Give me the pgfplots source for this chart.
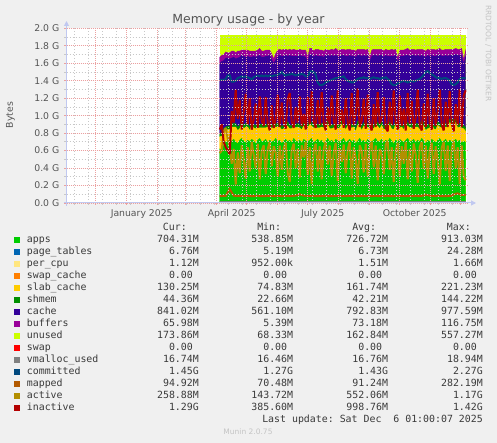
\documentclass[border=0pt]{standalone}
\usepackage{fontspec}
\setmainfont{DejaVu Sans}
\newfontfamily\monofam{DejaVu Sans Mono}
\usepackage{pgfplots}
\pgfplotsset{compat=1.18}
\usepackage{pgfplotstable}
\usetikzlibrary{arrows.meta}

\definecolor{bgcol}{HTML}{F0F0F0}
\definecolor{cApps}{HTML}{00CC00}
\definecolor{cPT}{HTML}{0066B3}
\definecolor{cPC}{HTML}{FFE680}
\definecolor{cSC}{HTML}{FF8000}
\definecolor{cSlab}{HTML}{FFCC00}
\definecolor{cShm}{HTML}{008F00}
\definecolor{cCache}{HTML}{330099}
\definecolor{cBuf}{HTML}{990099}
\definecolor{cUnused}{HTML}{CCFF00}
\definecolor{cSwap}{HTML}{FF0000}
\definecolor{cVm}{HTML}{808080}
\definecolor{cCom}{HTML}{00487D}
\definecolor{cMap}{HTML}{B35A00}
\definecolor{cAct}{HTML}{B38F00}
\definecolor{cInact}{HTML}{B30000}
\definecolor{gridred}{HTML}{EBA0A0}
\definecolor{gridgray}{HTML}{C8C8C8}
\definecolor{axblue}{HTML}{C0C8F0}
\definecolor{labcol}{HTML}{555555}
\definecolor{txtcol}{HTML}{3A3A3A}
\definecolor{faint}{HTML}{C4C4C4}

% d = days since 1 Jan 2025; values in GiB
\pgfplotstableread{
d apps slab shm cache buf com act inact map
93 0.62 0.14 0.04 0.80 0.07 1.41 0.57 0.84 0.080
95 0.60 0.16 0.04 0.82 0.07 1.41 0.60 0.90 0.080
97 0.66 0.15 0.04 0.78 0.07 1.41 0.82 0.70 0.081
99 0.70 0.13 0.04 0.79 0.07 1.42 0.86 0.64 0.082
101 0.72 0.12 0.04 0.78 0.06 1.46 0.74 0.60 0.120
103 0.69 0.15 0.04 0.77 0.07 1.46 0.64 0.56 0.160
105 0.71 0.16 0.04 0.75 0.08 1.39 0.45 1.05 0.120
107 0.73 0.14 0.04 0.76 0.07 1.39 0.62 0.92 0.085
109 0.70 0.17 0.04 0.74 0.07 1.40 0.21 1.30 0.082
111 0.68 0.15 0.04 0.79 0.08 1.43 0.58 0.96 0.080
113 0.72 0.13 0.04 0.78 0.07 1.44 0.34 1.18 0.081
115 0.74 0.16 0.05 0.74 0.06 1.45 0.66 0.84 0.080
117 0.71 0.14 0.04 0.79 0.07 1.44 0.50 1.04 0.079
119 0.69 0.18 0.04 0.76 0.08 1.45 0.28 1.25 0.080
121 0.72 0.15 0.04 0.77 0.07 1.44 0.64 0.90 0.081
123 0.70 0.13 0.04 0.80 0.07 1.43 0.36 1.20 0.080
125 0.73 0.16 0.04 0.74 0.07 1.41 0.70 0.84 0.079
127 0.71 0.15 0.04 0.78 0.06 1.44 0.55 0.95 0.080
129 0.68 0.17 0.04 0.78 0.07 1.45 0.40 1.14 0.080
131 0.72 0.14 0.04 0.78 0.07 1.46 0.68 0.86 0.081
133 0.74 0.12 0.04 0.79 0.08 1.45 0.27 1.22 0.080
135 0.70 0.16 0.04 0.77 0.07 1.46 0.60 0.94 0.079
137 0.71 0.15 0.05 0.76 0.07 1.45 0.66 0.88 0.080
139 0.73 0.13 0.04 0.78 0.07 1.46 0.33 1.21 0.080
141 0.69 0.18 0.04 0.77 0.07 1.45 0.62 0.92 0.081
143 0.72 0.14 0.04 0.79 0.06 1.46 0.70 0.83 0.080
145 0.70 0.16 0.04 0.74 0.07 1.45 0.42 1.12 0.080
147 0.71 0.15 0.04 0.70 0.05 1.46 0.65 0.86 0.079
149 0.74 0.13 0.04 0.73 0.07 1.46 0.58 0.96 0.080
151 0.70 0.17 0.04 0.77 0.07 1.47 0.30 1.24 0.081
153 0.72 0.15 0.04 0.78 0.07 1.48 0.66 0.87 0.080
155 0.68 0.16 0.04 0.80 0.07 1.50 0.38 1.15 0.080
157 0.71 0.14 0.04 0.79 0.08 1.47 0.63 0.91 0.079
159 0.73 0.15 0.04 0.77 0.07 1.46 0.69 0.85 0.080
161 0.70 0.18 0.05 0.75 0.07 1.47 0.35 1.19 0.081
163 0.72 0.13 0.04 0.80 0.07 1.47 0.24 1.26 0.080
165 0.69 0.16 0.04 0.79 0.07 1.48 0.61 0.93 0.080
167 0.74 0.14 0.04 0.76 0.08 1.47 0.68 0.86 0.082
169 0.71 0.15 0.04 0.78 0.07 1.46 0.40 1.10 0.085
171 0.70 0.17 0.04 0.77 0.07 1.47 0.62 0.92 0.090
173 0.72 0.14 0.04 0.79 0.07 1.47 0.29 1.22 0.100
175 0.68 0.16 0.04 0.80 0.07 1.48 0.66 0.88 0.090
177 0.73 0.15 0.04 0.76 0.07 1.47 0.52 1.02 0.084
179 0.71 0.13 0.04 0.79 0.08 1.45 0.70 0.84 0.082
181 0.70 0.16 0.04 0.72 0.05 1.45 0.32 1.21 0.080
183 0.72 0.18 0.05 0.75 0.07 1.50 0.64 0.90 0.080
185 0.74 0.14 0.04 0.78 0.07 1.51 0.22 1.28 0.081
187 0.69 0.17 0.04 0.77 0.07 1.50 0.60 0.94 0.080
189 0.71 0.15 0.04 0.79 0.07 1.47 0.68 0.86 0.080
191 0.73 0.13 0.04 0.78 0.08 1.38 0.36 1.18 0.079
193 0.70 0.16 0.04 0.78 0.07 1.35 0.65 0.89 0.080
195 0.72 0.15 0.04 0.77 0.07 1.35 0.27 1.27 0.080
197 0.68 0.18 0.05 0.76 0.07 1.36 0.62 0.92 0.081
199 0.71 0.14 0.04 0.80 0.07 1.38 0.70 0.83 0.080
201 0.74 0.16 0.04 0.75 0.06 1.39 0.44 1.10 0.080
203 0.70 0.15 0.04 0.79 0.07 1.40 0.66 0.88 0.079
205 0.72 0.13 0.04 0.80 0.07 1.41 0.31 1.23 0.080
207 0.69 0.17 0.04 0.78 0.07 1.42 0.58 0.95 0.080
209 0.73 0.15 0.04 0.77 0.08 1.43 0.69 0.84 0.081
211 0.71 0.14 0.04 0.79 0.07 1.43 0.25 1.29 0.080
213 0.70 0.16 0.05 0.77 0.07 1.44 0.63 0.90 0.080
215 0.72 0.18 0.04 0.75 0.07 1.44 0.47 1.07 0.080
217 0.74 0.14 0.04 0.77 0.07 1.45 0.67 0.86 0.079
219 0.69 0.15 0.04 0.80 0.07 1.42 0.34 1.20 0.080
221 0.71 0.17 0.04 0.76 0.08 1.40 0.61 0.93 0.080
223 0.73 0.13 0.04 0.79 0.07 1.39 0.70 0.83 0.081
225 0.70 0.16 0.04 0.78 0.07 1.38 0.28 1.26 0.080
227 0.72 0.15 0.04 0.77 0.07 1.38 0.64 0.89 0.080
229 0.68 0.14 0.04 0.81 0.07 1.40 0.52 1.02 0.079
231 0.71 0.18 0.05 0.75 0.07 1.42 0.22 1.31 0.080
233 0.74 0.15 0.04 0.76 0.07 1.43 0.66 0.87 0.080
235 0.70 0.13 0.04 0.81 0.08 1.43 0.60 0.94 0.081
237 0.72 0.16 0.04 0.77 0.07 1.44 0.35 1.19 0.080
239 0.69 0.17 0.04 0.78 0.07 1.43 0.68 0.85 0.080
241 0.73 0.14 0.04 0.78 0.07 1.43 0.30 1.24 0.080
243 0.71 0.15 0.04 0.72 0.05 1.42 0.63 0.90 0.079
245 0.70 0.16 0.04 0.78 0.07 1.43 0.70 0.83 0.080
247 0.72 0.13 0.04 0.80 0.07 1.44 0.41 1.13 0.080
249 0.74 0.15 0.05 0.75 0.07 1.43 0.66 0.87 0.081
251 0.70 0.18 0.04 0.76 0.08 1.43 0.26 1.27 0.080
253 0.71 0.14 0.04 0.80 0.07 1.42 0.62 0.91 0.080
255 0.73 0.16 0.04 0.76 0.07 1.43 0.56 0.97 0.079
257 0.69 0.15 0.04 0.79 0.07 1.43 0.33 1.21 0.080
259 0.72 0.13 0.04 0.80 0.07 1.44 0.67 0.86 0.080
261 0.70 0.17 0.04 0.77 0.07 1.42 0.71 0.82 0.081
263 0.74 0.15 0.04 0.75 0.07 1.40 0.38 1.16 0.080
265 0.71 0.14 0.04 0.79 0.08 1.36 0.64 0.89 0.080
267 0.68 0.16 0.05 0.79 0.07 1.35 0.24 1.29 0.080
269 0.72 0.18 0.04 0.75 0.07 1.35 0.60 0.93 0.079
271 0.70 0.15 0.04 0.72 0.05 1.37 0.69 0.84 0.080
273 0.73 0.13 0.04 0.78 0.07 1.38 0.30 1.23 0.080
275 0.71 0.16 0.04 0.77 0.07 1.39 0.65 0.88 0.081
277 0.69 0.15 0.04 0.80 0.07 1.40 0.45 1.08 0.080
279 0.72 0.17 0.04 0.76 0.07 1.39 0.70 0.83 0.080
281 0.74 0.14 0.04 0.77 0.08 1.38 0.27 1.26 0.080
283 0.70 0.16 0.04 0.78 0.07 1.39 0.62 0.91 0.079
285 0.71 0.15 0.05 0.78 0.07 1.40 0.36 1.17 0.080
287 0.73 0.13 0.04 0.79 0.07 1.39 0.68 0.85 0.080
289 0.69 0.18 0.04 0.77 0.07 1.40 0.56 0.97 0.081
291 0.72 0.15 0.04 0.78 0.07 1.41 0.23 1.30 0.080
293 0.70 0.14 0.04 0.80 0.08 1.42 0.64 0.89 0.080
295 0.74 0.16 0.04 0.75 0.07 1.44 0.70 0.83 0.082
297 0.71 0.17 0.04 0.76 0.07 1.47 0.39 1.14 0.088
299 0.68 0.15 0.04 0.80 0.07 1.50 0.66 0.87 0.095
301 0.72 0.13 0.05 0.79 0.07 1.51 0.28 1.25 0.090
303 0.70 0.16 0.04 0.78 0.07 1.49 0.61 0.92 0.085
305 0.73 0.18 0.04 0.74 0.07 1.47 0.69 0.84 0.082
307 0.71 0.14 0.04 0.79 0.08 1.46 0.33 1.20 0.080
309 0.69 0.15 0.04 0.80 0.07 1.44 0.65 0.88 0.080
311 0.72 0.17 0.04 0.76 0.07 1.43 0.48 1.05 0.081
313 0.74 0.13 0.04 0.79 0.07 1.43 0.21 1.30 0.080
315 0.70 0.16 0.04 0.78 0.07 1.42 0.63 0.90 0.080
317 0.71 0.15 0.05 0.77 0.07 1.43 0.70 0.83 0.079
319 0.73 0.14 0.04 0.78 0.07 1.43 0.37 1.16 0.080
321 0.69 0.18 0.04 0.77 0.08 1.42 0.66 0.87 0.080
323 0.72 0.20 0.04 0.73 0.07 1.40 0.25 1.28 0.081
325 0.70 0.21 0.04 0.74 0.07 1.36 0.62 0.91 0.085
327 0.71 0.20 0.05 0.73 0.07 1.35 0.71 0.82 0.095
329 0.73 0.19 0.04 0.74 0.07 1.36 0.40 1.13 0.105
331 0.70 0.16 0.04 0.79 0.07 1.38 0.64 0.89 0.110
333 0.72 0.15 0.04 0.78 0.07 1.42 0.22 1.30 0.100
335 0.69 0.17 0.04 0.79 0.08 1.43 0.66 0.87 0.090
337 0.71 0.14 0.04 0.70 0.05 1.43 0.30 1.23 0.092
339 0.69 0.13 0.04 0.82 0.07 1.43 0.26 1.29 0.093
}\memdata

\pgfplotsset{memgeom/.style={
  scale only axis, width=400.5bp, height=174.7bp,
  at={(66.5bp,240bp)}, anchor=south west,
  xmin=-60.2, xmax=340.3, ymin=0, ymax=2,
}}

\newcommand\legfont{\fontsize{9.9bp}{12bp}\monofam}
\newcommand\tickfont{\fontsize{9.3bp}{11bp}\selectfont}

\begin{document}
\begin{tikzpicture}
\fill[bgcol] (0,0) rectangle (497bp,443bp);
\path[use as bounding box] (0,0) rectangle (497bp,443bp);

% background + unused (total memory)
\begin{axis}[memgeom, axis line style={draw=none}, ticks=none,
  axis background/.style={fill=white}]
\addplot[fill=cUnused, draw=none] coordinates {(93,1.925) (339,1.925)} \closedcycle;
\end{axis}

% stacked areas
\begin{axis}[memgeom, axis line style={draw=none}, ticks=none, stack plots=y]
\addplot[fill=cApps, draw=cApps, line width=0.3bp] table[x=d,y=apps]{\memdata} \closedcycle;
\addplot[fill=cSlab, draw=cSlab, line width=0.3bp] table[x=d,y=slab]{\memdata} \closedcycle;
\addplot[fill=cShm, draw=cShm, line width=0.3bp] table[x=d,y=shm]{\memdata} \closedcycle;
\addplot[fill=cCache, draw=cCache, line width=0.3bp] table[x=d,y=cache]{\memdata} \closedcycle;
\addplot[fill=cBuf, draw=cBuf, line width=0.3bp] table[x=d,y=buf]{\memdata} \closedcycle;
\end{axis}

% lines, grid, ticks
\begin{axis}[memgeom, axis on top, axis line style={draw=none},
  xtick pos=bottom, ytick pos=left, tick align=outside,
  major tick length=2bp, minor tick length=2bp,
  major tick style={draw=gridred, line width=0.8bp},
  minor tick style={draw=gridgray, line width=0.8bp},
  grid=both,
  major grid style={draw=gridred, line width=0.8bp, dash pattern=on 1bp off 1bp},
  minor grid style={draw=gridgray, line width=0.8bp, dash pattern=on 1bp off 2bp},
  xtick={-31,0,31,59,90,120,151,181,212,243,273,304,334},
  xticklabel={\relax},
  minor xtick={-52,-38,-24,-10,4,18,32,46,60,74,88,102,116,130,144,158,172,186,200,214,228,242,256,270,284,298,312,326},
  extra x ticks={15,105,196,288},
  extra x tick labels={January 2025,April 2025,July 2025,October 2025},
  extra x tick style={grid=none, major tick length=0pt},
  xticklabel style={font=\tickfont, text=labcol, inner sep=0pt, yshift=-6.2bp},
  ytick={0,0.2,0.4,0.6,0.8,1.0,1.2,1.4,1.6,1.8,2.0},
  yticklabels={0.0 G,0.2 G,0.4 G,0.6 G,0.8 G,1.0 G,1.2 G,1.4 G,1.6 G,1.8 G,2.0 G},
  minor ytick={0.1,0.3,0.5,0.7,0.9,1.1,1.3,1.5,1.7,1.9},
  yticklabel style={font=\tickfont, text=labcol, inner sep=0pt, xshift=-5bp},
]
\addplot[cVm, line width=2bp] coordinates {(93,0.016) (339,0.016)};
\addplot[cCom, line width=2bp] table[x=d,y=com]{\memdata};
\addplot[cMap, line width=2bp] table[x=d,y=map]{\memdata};
\addplot[cAct, line width=2bp, line join=bevel] table[x=d,y=act]{\memdata};
\addplot[cInact, line width=2bp, line join=bevel] table[x=d,y=inact]{\memdata};
\end{axis}

% axis lines with arrows
\draw[axblue, line width=1bp, -{Triangle[length=5bp,width=5bp]}] (66.5bp,237bp) -- (66.5bp,422bp);
\draw[axblue, line width=1bp, -{Triangle[length=5bp,width=5bp]}] (63.5bp,240bp) -- (476bp,240bp);

% title and labels
\node[anchor=base, inner sep=0, font=\fontsize{12.5bp}{14bp}\selectfont, text=labcol] at (248.5bp,419bp) {Memory usage - by year};
\node[rotate=90, inner sep=0, font=\tickfont, text=labcol] at (10.5bp,328bp) {Bytes};
\node[rotate=-90, inner sep=0, font=\fontsize{7.5bp}{9bp}\selectfont, text=faint] at (488.3bp,389.7bp) {RRDTOOL / TOBI OETIKER};

% legend table
\begin{scope}[every node/.style={inner sep=0, text=txtcol, font=\legfont}]
\node[anchor=base east] at (187bp,212.3bp) {Cur:};
\node[anchor=base east] at (281.3bp,212.3bp) {Min:};
\node[anchor=base east] at (376.3bp,212.3bp) {Avg:};
\node[anchor=base east] at (471bp,212.3bp) {Max:};
\foreach \nm/\col/\cur/\mn/\av/\mx [count=\i from 0] in {
  apps/cApps/704.31M/538.85M/726.72M/913.03M,
  page\_tables/cPT/6.76M/5.19M/6.73M/24.28M,
  per\_cpu/cPC/1.12M/952.00k/1.51M/1.66M,
  swap\_cache/cSC/0.00\phantom{M}/0.00\phantom{M}/0.00\phantom{M}/0.00\phantom{M},
  slab\_cache/cSlab/130.25M/74.83M/161.74M/221.23M,
  shmem/cShm/44.36M/22.66M/42.21M/144.22M,
  cache/cCache/841.02M/561.10M/792.83M/977.59M,
  buffers/cBuf/65.98M/5.39M/73.18M/116.75M,
  unused/cUnused/173.86M/68.33M/162.84M/557.27M,
  swap/cSwap/0.00\phantom{M}/0.00\phantom{M}/0.00\phantom{M}/0.00\phantom{M},
  vmalloc\_used/cVm/16.74M/16.46M/16.76M/18.94M,
  committed/cCom/1.45G/1.27G/1.43G/2.27G,
  mapped/cMap/94.92M/70.48M/91.24M/282.19M,
  active/cAct/258.88M/143.72M/552.06M/1.17G,
  inactive/cInact/1.29G/385.60M/998.76M/1.42G}
{
  \pgfmathsetmacro\yy{443-242.7-12*\i}
  \pgfmathsetmacro\yt{\yy+6}
  \fill[\col] (14bp,\yy bp) rectangle (20bp,\yt bp);
  \node[anchor=base west] at (26.7bp,\yy bp) {\nm};
  \node[anchor=base east] at (199bp,\yy bp) {\cur};
  \node[anchor=base east] at (293.3bp,\yy bp) {\mn};
  \node[anchor=base east] at (388.3bp,\yy bp) {\av};
  \node[anchor=base east] at (483bp,\yy bp) {\mx};
}
\node[anchor=base east] at (483bp,20.3bp) {Last update:\ Sat Dec\ \ 6 01:00:07 2025};
\end{scope}
\node[anchor=base, inner sep=0, font=\fontsize{7.5bp}{9bp}\selectfont, text=faint] at (248bp,9bp) {Munin 2.0.75};
\end{tikzpicture}
\end{document}
